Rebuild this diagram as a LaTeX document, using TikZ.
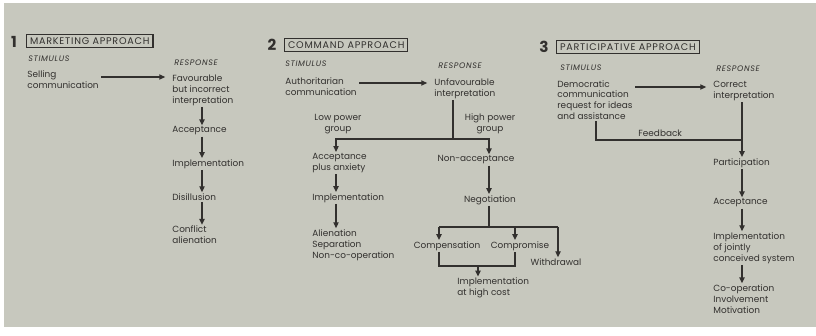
\documentclass[tikz,border=0pt]{standalone}
\usepackage{fontspec}
\setmainfont{Poppins}
\usetikzlibrary{arrows.meta,positioning}
\definecolor{paper}{RGB}{199,200,190}
\definecolor{ink}{RGB}{50,48,46}
\tikzset{
  txt/.style={anchor=west, align=left, inner sep=1pt, text=ink, font=\fontsize{7.6}{9.3}\selectfont},
  lbl/.style={anchor=west, inner sep=1pt, text=ink, font=\fontsize{6.8}{7}\selectfont\itshape\addfontfeatures{LetterSpace=8}},
  head/.style={anchor=west, draw=ink, line width=0.9pt, inner xsep=3pt, inner ysep=2.6pt, text=ink, font=\fontsize{8.2}{8.5}\selectfont\addfontfeatures{LetterSpace=8}},
  num/.style={inner sep=0pt, text=ink, font=\fontsize{13}{13}\selectfont\bfseries},
  line/.style={draw=ink, line width=1.1pt},
  arr/.style={line, -{Triangle[length=5pt,width=4.5pt]}}
}
\begin{document}
\begin{tikzpicture}[x=0.03cm, y=-0.03cm]
\useasboundingbox (0,0) rectangle (816,335);
\fill[paper] (4,3) rectangle (816,327);

% 1 marketing approach
\node[num] (n1) at (14,42) {1};
\node[head] (h1) at (26,41) {MARKETING APPROACH};
\node[lbl] (s1) at (27,59) {STIMULUS};
\node[lbl] (r1) at (173,63) {RESPONSE};
\node[txt] (sell) at (26,80) {Selling\\communication};
\node[txt] (fav) at (171,90) {Favourable\\but incorrect\\interpretation};
\node[txt] (acc1) at (171,131) {Acceptance};
\node[txt] (imp1) at (171,164) {Implementation};
\node[txt] (dis1) at (171,197) {Disillusion};
\node[txt] (con1) at (171,235) {Conflict\\alienation};
\coordinate (c1) at (202,0);
\draw[arr, shorten <=1pt, shorten >=5pt] (sell.east |- 0,77) -- (fav.west |- 0,77);
\draw[arr] (fav.south -| c1) -- (acc1.north -| c1);
\draw[arr] (acc1.south -| c1) -- (imp1.north -| c1);
\draw[arr] (imp1.south -| c1) -- (dis1.north -| c1);
\draw[arr] (dis1.south -| c1) -- (con1.north -| c1);

% 2 command approach
\node[num] (n2) at (272,45) {2};
\node[head] (h2) at (284,45) {COMMAND APPROACH};
\node[lbl] (s2) at (284,64) {STIMULUS};
\node[lbl] (r2) at (437,66) {RESPONSE};
\node[txt] (auth) at (284,87) {Authoritarian\\communication};
\node[txt] (unf) at (433,89) {Unfavourable\\interpretation};
\node[txt, align=center, anchor=center] (low) at (338,124) {Low power\\group};
\node[txt, align=center, anchor=center] (high) at (490,124) {High power\\group};
\node[txt] (accanx) at (311,163) {Acceptance\\plus anxiety};
\node[txt] (imp2) at (311,198) {Implementation};
\node[txt] (alien) at (311,245) {Alienation\\Separation\\Non-co-operation};
\node[txt, anchor=center] (nonacc) at (476,160) {Non-acceptance};
\node[txt, anchor=center] (nego) at (490,200) {Negotiation};
\node[txt, anchor=center] (comp) at (447,246) {Compensation};
\node[txt, anchor=center] (compr) at (520,246) {Compromise};
\node[txt, anchor=center] (withd) at (556,262) {Withdrawal};
\node[txt] (cost) at (456,288) {Implementation\\at high cost};
\coordinate (fork2) at (453,139);
\coordinate (cl) at (336,139);
\coordinate (cr) at (489,139);
\draw[arr, shorten <=1pt, shorten >=5pt] (auth.east |- 0,83) -- (unf.west |- 0,83);
\draw[line] (unf.south -| fork2) -- (fork2);
\draw[arr] (fork2) -| (cl |- accanx.north);
\draw[arr] (fork2) -| (cr |- nonacc.north);
\draw[arr] (accanx.south -| cl) -- (imp2.north -| cl);
\draw[arr] (imp2.south -| cl) -- (alien.north -| cl);
\draw[arr] (nonacc.south -| cr) -- (nego.north -| cr);
\coordinate (fork3) at (489,227);
\coordinate (ca) at (439,227);
\coordinate (cb) at (515,227);
\coordinate (cc) at (558,227);
\coordinate (jn) at (478,266);
\draw[line] (nego.south -| fork3) -- (fork3);
\draw[line] (ca) -- (cc);
\draw[arr] (ca) -- (ca |- comp.north);
\draw[arr] (cb) -- (cb |- compr.north);
\draw[arr] (cc) -- (cc |- withd.north);
\draw[line] (ca |- comp.south) |- (jn) -| (cb |- compr.south);
\draw[arr] (jn) -- (jn |- cost.north);

% 3 participative approach
\node[num] (n3) at (544,47) {3};
\node[head] (h3) at (556,47) {PARTICIPATIVE APPROACH};
\node[lbl] (s3) at (559,68) {STIMULUS};
\node[lbl] (r3) at (715,69) {RESPONSE};
\node[txt] (demo) at (556,100) {Democratic\\communication\\request for ideas\\and assistance};
\node[txt] (corr) at (712,91) {Correct\\interpretation};
\node[txt] (part) at (712,163) {Participation};
\node[txt] (acc3) at (712,203) {Acceptance};
\node[txt] (imp3) at (712,248) {Implementation\\of jointly\\conceived system};
\node[txt] (coop) at (712,299) {Co-operation\\Involvement\\Motivation};
\coordinate (c3) at (742,0);
\coordinate (fb) at (596,140);
\draw[arr, shorten <=1pt, shorten >=5pt] (demo.east |- 0,87) -- (corr.west |- 0,87);
\draw[arr] (corr.south -| c3) -- (part.north -| c3);
\draw[line] (demo.south -| fb) |- node[txt, anchor=south, pos=0.72, yshift=1pt] (fbl) {Feedback} (c3 |- fb);
\draw[arr] (part.south -| c3) -- (acc3.north -| c3);
\draw[arr] (acc3.south -| c3) -- (imp3.north -| c3);
\draw[arr] (imp3.south -| c3) -- (coop.north -| c3);
\end{tikzpicture}
\end{document}
